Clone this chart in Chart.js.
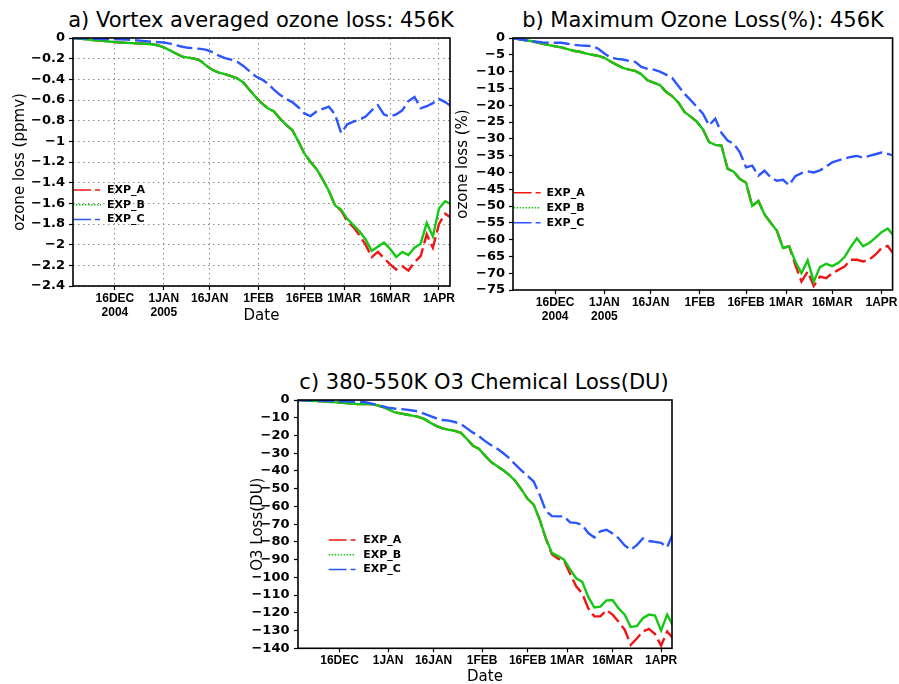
<!DOCTYPE html>
<html>
<head>
<meta charset="utf-8">
<script src="https://cdn.jsdelivr.net/npm/chart.js@4.4.1/dist/chart.umd.min.js"></script>
<style>
  html, body { margin: 0; padding: 0; background: #fff; overflow: hidden; }
  #page { position: relative; width: 899px; height: 684px; }
  canvas { position: absolute; }
  .ttl {
    position: absolute; width: 400px; text-align: center; white-space: nowrap;
    font-family: 'DejaVu Sans', sans-serif; font-size: 21px; line-height: 24px; color: #000;
  }
</style>
</head>
<body>
<div id="page">
  <div class="ttl" style="left:61px; top:8px;">a) Vortex averaged ozone loss: 456K</div>
  <div class="ttl" style="left:503px; top:8px;">b) Maximum Ozone Loss(%): 456K</div>
  <div class="ttl" style="left:284px; top:370px;">c) 380-550K O3 Chemical Loss(DU)</div>
  <canvas id="chartA" width="460" height="340" style="left:0; top:0;"></canvas>
  <canvas id="chartB" width="449" height="340" style="left:450px; top:0;"></canvas>
  <canvas id="chartC" width="440" height="330" style="left:240px; top:360px;"></canvas>
</div>
<script>
// day number counted from 1 Dec 2004
const DAYS = [1, 3, 5, 7, 9, 11, 13, 15, 17, 19, 21, 23, 25, 27, 29, 31, 33, 35, 37, 39, 41,
  43, 45, 47, 49, 51, 53, 55, 57, 59, 61, 63, 65, 67, 69, 71, 73, 75, 77, 79, 81, 83,
  85, 87, 89, 91, 93, 95, 97, 99, 101, 103, 105, 107, 109, 111, 113, 115, 117, 119, 121, 123, 125];

const TICK_DAYS = [15, 31, 46, 62, 77, 90, 105, 121];
const TICK_NAMES = ['16DEC', '1JAN', '16JAN', '1FEB', '16FEB', '1MAR', '16MAR', '1APR'];
const TICK_YEARS = ['2004', '2005', '', '', '', '', '', ''];
const SERIES_NAMES = ['EXP_A', 'EXP_B', 'EXP_C'];

// a) vortex averaged ozone loss at 456K (ppmv)
const vortexA = [0, -0.005, -0.01, -0.018, -0.023, -0.028, -0.034, -0.04, -0.043, -0.047, -0.05,
  -0.053, -0.056, -0.06, -0.07, -0.09, -0.12, -0.15, -0.18, -0.19, -0.20, -0.22, -0.27, -0.31,
  -0.335, -0.35, -0.37, -0.39, -0.43, -0.50, -0.57, -0.63, -0.68, -0.71, -0.78, -0.84, -0.89,
  -1.00, -1.12, -1.20, -1.27, -1.37, -1.48, -1.62, -1.67, -1.77, -1.83, -1.91, -2.00, -2.12,
  -2.07, -2.13, -2.19, -2.24, -2.21, -2.25, -2.17, -2.11, -1.90, -2.03, -1.80, -1.70, -1.74];
const vortexB = [0, -0.005, -0.01, -0.018, -0.023, -0.028, -0.034, -0.04, -0.043, -0.047, -0.05,
  -0.053, -0.056, -0.06, -0.07, -0.09, -0.12, -0.15, -0.18, -0.19, -0.20, -0.22, -0.27, -0.31,
  -0.335, -0.35, -0.37, -0.39, -0.43, -0.50, -0.57, -0.63, -0.68, -0.71, -0.78, -0.84, -0.89,
  -1.00, -1.12, -1.20, -1.27, -1.37, -1.48, -1.62, -1.66, -1.75, -1.81, -1.87, -1.95, -2.06,
  -2.02, -1.98, -2.04, -2.12, -2.07, -2.10, -2.03, -1.99, -1.79, -1.92, -1.65, -1.58, -1.61];
const vortexC = [0, -0.002, -0.004, -0.006, -0.008, -0.01, -0.011, -0.012, -0.013, -0.016, -0.02,
  -0.025, -0.03, -0.037, -0.04, -0.044, -0.055, -0.07, -0.085, -0.095, -0.10, -0.105, -0.115,
  -0.14, -0.17, -0.195, -0.21, -0.23, -0.27, -0.32, -0.37, -0.40, -0.44, -0.50, -0.55, -0.59,
  -0.62, -0.67, -0.73, -0.755, -0.71, -0.685, -0.665, -0.74, -0.92, -0.835, -0.81, -0.79, -0.76,
  -0.70, -0.65, -0.74, -0.76, -0.74, -0.70, -0.61, -0.57, -0.68, -0.66, -0.63, -0.59, -0.62, -0.66];

// b) maximum ozone loss at 456K (%)
const maxLossA = [0, -0.3, -0.6, -0.9, -1.3, -1.7, -2.1, -2.5, -2.8, -3.3, -3.8, -4.1, -4.6, -5.0,
  -5.3, -5.9, -7.0, -8.0, -8.9, -9.4, -9.8, -10.8, -12.6, -13.3, -14.0, -16.0, -17.3, -19.2,
  -22.0, -23.4, -24.9, -27.2, -31.0, -31.8, -32.0, -38.9, -39.8, -42.0, -43.1, -50.0, -48.5,
  -52.5, -55.0, -57.3, -62.5, -62.0, -67.5, -72.5, -69.5, -73.8, -71.0, -71.5, -70.0, -69.0,
  -68.0, -66.0, -66.0, -66.5, -66.0, -64.5, -62.5, -61.9, -64.4];
const maxLossB = [0, -0.3, -0.6, -0.9, -1.3, -1.7, -2.1, -2.5, -2.8, -3.3, -3.8, -4.1, -4.6, -5.0,
  -5.3, -5.9, -7.0, -8.0, -8.9, -9.4, -9.8, -10.8, -12.6, -13.3, -14.0, -16.0, -17.3, -19.2,
  -22.0, -23.4, -24.9, -27.2, -31.0, -31.8, -32.0, -38.9, -39.8, -42.0, -43.1, -50.0, -48.5,
  -52.5, -55.0, -57.3, -62.5, -62.0, -66.5, -70.0, -66.2, -72.5, -68.2, -67.2, -67.9, -66.9,
  -65.2, -62.2, -59.6, -62.0, -61.0, -59.5, -57.8, -56.7, -58.9];
const maxLossC = [0, -0.3, -0.6, -0.9, -1.1, -1.3, -1.4, -1.4, -1.4, -1.7, -2.0, -2.2, -2.3, -2.4,
  -3.2, -4.6, -5.8, -6.2, -6.4, -6.8, -7.1, -8.6, -9.2, -9.4, -10.0, -10.9, -11.9, -14.3, -16.6,
  -18.5, -20.5, -22.5, -26.0, -24.0, -28.2, -30.5, -31.5, -34.0, -38.5, -38.0, -41.0, -39.5,
  -41.5, -42.5, -42.2, -43.8, -41.1, -40.2, -39.7, -40.0, -39.4, -38.3, -37.0, -36.4, -35.9,
  -35.4, -35.1, -35.6, -35.1, -34.6, -34.1, -34.5, -35.0];

// c) 380-550K column chemical loss (DU)
const columnA = [0, -0.2, -0.4, -0.6, -0.8, -1.0, -1.2, -1.4, -1.7, -2.0, -2.3, -2.3, -2.3, -2.8,
  -3.8, -5.2, -6.8, -7.5, -8.2, -8.8, -9.5, -10.8, -12.9, -14.7, -16.0, -16.8, -17.4, -18.5,
  -22.0, -25.8, -27.6, -31.5, -35.0, -37.4, -39.6, -42.3, -45.8, -50.5, -55.7, -59.0, -67.5,
  -78.0, -87.0, -89.5, -90.5, -98.0, -105.0, -109.0, -117.5, -122.0, -122.0, -118.5, -121.0,
  -125.0, -129.5, -138.0, -134.5, -130.5, -129.0, -132.0, -138.5, -130.5, -134.5];
const columnB = [0, -0.2, -0.4, -0.6, -0.8, -1.0, -1.2, -1.4, -1.7, -2.0, -2.3, -2.3, -2.3, -2.8,
  -3.8, -5.2, -6.8, -7.5, -8.2, -8.8, -9.5, -10.8, -12.9, -14.7, -16.0, -16.8, -17.4, -18.5,
  -22.0, -25.8, -27.6, -31.5, -35.0, -37.4, -39.6, -42.3, -45.8, -50.5, -55.7, -59.0, -67.5,
  -78.0, -86.2, -88.0, -90.0, -95.5, -100.5, -102.5, -111.0, -117.0, -116.5, -113.0, -112.8,
  -117.5, -121.0, -128.0, -127.5, -123.0, -121.0, -121.5, -130.0, -121.0, -127.5];
const columnC = [0, -0.1, -0.2, -0.3, -0.4, -0.5, -0.6, -0.7, -0.8, -0.9, -1.0, -1.1, -1.8, -2.6,
  -3.5, -4.3, -4.8, -5.1, -5.4, -5.9, -6.5, -7.8, -9.1, -10.3, -11.3, -11.6, -12.4, -13.5, -16.0,
  -18.4, -20.5, -23.2, -25.5, -27.5, -30.0, -32.8, -36.5, -39.8, -42.8, -46.0, -53.5, -62.5,
  -65.5, -65.6, -65.6, -69.0, -69.3, -70.5, -75.0, -77.5, -74.0, -73.2, -75.2, -78.0, -82.0,
  -84.5, -81.8, -78.0, -79.5, -80.0, -80.5, -83.0, -75.0];

const LINE_COLORS = ['#f01414', '#14c814', '#2a55ff'];
const PLOT_DASH = [[15, 5], [], [16, 5]];
const LEGEND_DASH = [[18, 4, 5, 4], [1.5, 1.5], [18, 4, 5, 4]];
const DRAW_ORDER = [2, 1, 0];
const X_MIN = 1.3, X_MAX = 124.6;

Chart.defaults.font.family = "'DejaVu Sans', sans-serif";
Chart.defaults.color = '#000';

// key drawn inside the plot, one short line sample + name per run
const seriesLegend = {
  id: 'seriesLegend',
  afterDatasetsDraw(chart, args, o) {
    const ctx = chart.ctx, area = chart.chartArea;
    ctx.save();
    chart.data.datasets.forEach((ds, i) => {
      const x0 = area.left + o.x;
      const y = area.top + o.y + i * o.step;
      ctx.strokeStyle = ds.borderColor;
      ctx.lineWidth = 1.5;
      ctx.setLineDash(LEGEND_DASH[i]);
      ctx.beginPath();
      ctx.moveTo(x0, y);
      ctx.lineTo(x0 + o.len, y);
      ctx.stroke();
      ctx.setLineDash([]);
      ctx.fillStyle = '#000';
      ctx.font = "bold 11px 'DejaVu Sans'";
      ctx.textBaseline = 'middle';
      ctx.textAlign = 'left';
      ctx.fillText(ds.label, x0 + o.len + o.gap, y);
    });
    ctx.restore();
  }
};

// closed box round the plot area
const frame = {
  id: 'frame',
  afterDraw(chart) {
    const ctx = chart.ctx, a = chart.chartArea;
    ctx.save();
    ctx.strokeStyle = '#000';
    ctx.lineWidth = 1.6;
    ctx.strokeRect(a.left, a.top, a.right - a.left, a.bottom - a.top);
    ctx.restore();
  }
};

// y labels: trim float noise, use a real minus sign
function fmtTick(v) {
  const r = Math.round(v * 10) / 10;
  return r < 0 ? '\u2212' + String(-r) : String(r);
}

function buildPanel(id, series, yMin, yStep, yTitle, p) {
  const datasets = series.map((vals, i) => ({
    label: SERIES_NAMES[i],
    data: DAYS.map((d, k) => ({ x: d, y: vals[k] })),
    borderColor: LINE_COLORS[i],
    borderWidth: 2.4,
    borderDash: PLOT_DASH[i],
    pointRadius: 0,
    tension: 0,
    fill: false,
    order: DRAW_ORDER[i]
  }));

  return new Chart(document.getElementById(id), {
    type: 'line',
    data: { datasets },
    options: {
      responsive: false,
      animation: false,
      events: [],
      layout: { padding: p.pad },
      plugins: {
        legend: { display: false },
        tooltip: { enabled: false },
        seriesLegend: p.legend
      },
      scales: {
        x: {
          type: 'linear',
          min: X_MIN,
          max: X_MAX,
          afterBuildTicks: s => { s.ticks = TICK_DAYS.map(v => ({ value: v })); },
          afterFit: s => { s.height = p.xHeight; },
          ticks: {
            autoSkip: false,
            maxRotation: 0,
            padding: p.xPad,
            color: '#000',
            font: { family: "'Liberation Sans'", size: 12, weight: 'bold', lineHeight: 1.2 },
            callback: (v, i) => p.years ? [TICK_NAMES[i], TICK_YEARS[i]] : TICK_NAMES[i]
          },
          grid: {
            drawOnChartArea: p.grid,
            color: '#8c8c8c',
            lineWidth: 1,
            tickLength: 4,
            tickColor: '#000',
            tickWidth: 1.2
          },
          border: { display: false, dash: [1.5, 3.5] },
          title: {
            display: p.dateTitle,
            text: 'Date',
            color: '#000',
            font: { size: 15 },
            padding: 0
          }
        },
        y: {
          type: 'linear',
          min: yMin,
          max: 0,
          afterFit: s => { s.width = p.yWidth; },
          ticks: {
            stepSize: yStep,
            autoSkip: false,
            maxTicksLimit: 100,
            padding: p.yPad,
            color: '#000',
            font: { size: 13, weight: 'bold' },
            callback: v => fmtTick(v)
          },
          grid: {
            drawOnChartArea: p.grid,
            color: '#8c8c8c',
            lineWidth: 1,
            tickLength: 4,
            tickColor: '#000',
            tickWidth: 1.2
          },
          border: { display: false, dash: [1.5, 3.5] },
          title: {
            display: true,
            text: yTitle,
            color: '#000',
            font: { size: 15 },
            padding: { top: p.yTitlePad, bottom: 0 }
          }
        }
      }
    },
    plugins: [seriesLegend, frame]
  });
}

buildPanel('chartA', [vortexA, vortexB, vortexC], -2.4, 0.2, 'ozone loss (ppmv)', {
  pad: { top: 38, right: 10, bottom: 15, left: 0 },
  yWidth: 73, xHeight: 39, xPad: 1, yPad: 4, yTitlePad: 11.5,
  years: true, dateTitle: true, grid: true,
  legend: { x: 0, y: 152, step: 14.7, len: 28, gap: 6 }
});

buildPanel('chartB', [maxLossA, maxLossB, maxLossC], -75, 5, 'ozone loss (%)', {
  pad: { top: 38, right: 6, bottom: 10, left: 0 },
  yWidth: 63, xHeight: 40, xPad: 1.3, yPad: 4, yTitlePad: 4.3,
  years: true, dateTitle: false, grid: false,
  legend: { x: 0.6, y: 154.7, step: 15, len: 27, gap: 6 }
});

buildPanel('chartC', [columnA, columnB, columnC], -140, 10, 'O3 Loss(DU)', {
  pad: { top: 40, right: 8, bottom: 3.5, left: 0 },
  yWidth: 58, xHeight: 38.2, xPad: 1.5, yPad: 4.5, yTitlePad: 9,
  years: false, dateTitle: true, grid: false,
  legend: { x: 30.6, y: 140, step: 14.7, len: 27, gap: 7.7 }
});
</script>
</body>
</html>
